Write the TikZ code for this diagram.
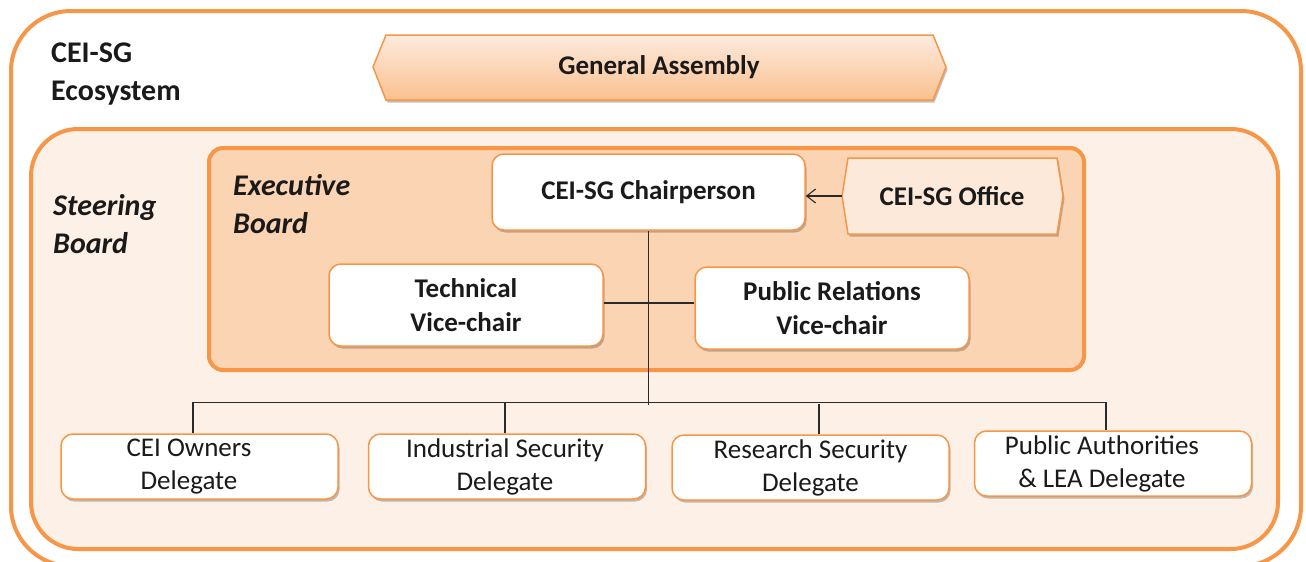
\documentclass[tikz,border=0pt]{standalone}
\usepackage{fontspec}
\setmainfont{Carlito}
\usetikzlibrary{shadows,arrows.meta}
\definecolor{acc}{HTML}{F79646}
\definecolor{steerfill}{HTML}{FDF1E7}
\definecolor{execfill}{HTML}{FBD4B4}
\definecolor{officefill}{HTML}{FDE9D9}
\definecolor{gatop}{HTML}{FDEBDE}
\definecolor{gabot}{HTML}{FAC08F}
\definecolor{ink}{HTML}{1A1A1A}
\definecolor{lineclr}{HTML}{2A2A2A}
\tikzset{
  boxshadow/.style={drop shadow={shadow xshift=1.5pt,shadow yshift=-2.5pt,opacity=0.35,fill=black!70}},
  box/.style={draw=acc,line width=1.5pt,fill=white,rounded corners=12pt,inner sep=0pt,align=center,text=ink,boxshadow},
  boldbox/.style={box,font=\bfseries\fontsize{27}{34}\selectfont},
  delbox/.style={box,font=\fontsize{27}{33}\selectfont,minimum width=277pt,minimum height=65pt},
  grouplabel/.style={inner sep=0pt,anchor=north west,align=left,text=ink,font=\bfseries\fontsize{30}{38}\selectfont},
  conn/.style={draw=lineclr,line width=1.1pt},
  plain/.style={inner sep=0pt,text=ink}
}
\begin{document}
\begin{tikzpicture}[x=1pt,y=-1pt]
\path[use as bounding box,clip] (0,0) rectangle (1306,562);
% outer ecosystem
\draw[acc,line width=4pt,fill=white,rounded corners=60pt] (11,11) rectangle (1301,566);
% steering board
\draw[acc,line width=4pt,fill=steerfill,rounded corners=47pt] (31,129) rectangle (1278,549);
% executive board
\draw[acc,line width=4pt,fill=execfill,rounded corners=14pt] (209,148) rectangle (1084,370);
% General Assembly
\path[draw=acc,line width=1.5pt,top color=gatop,bottom color=gabot,boxshadow]
  (373,67) -- (386,35) -- (933,35) -- (946,67) -- (933,100) -- (386,100) -- cycle;
\node[plain,font=\bfseries\fontsize{27}{34}\selectfont] (ga) at (659,67) {General Assembly};
% Office
\path[draw=acc,line width=1.5pt,fill=officefill,boxshadow]
  (842,196) -- (848,158) -- (1057,158) -- (1063,196) -- (1057,234) -- (848,234) -- cycle;
\node[plain,font=\bfseries\fontsize{27}{34}\selectfont] (office) at (952,196) {CEI-SG Office};
\coordinate (officew) at (842,196);
% labels
\node[grouplabel] (eco) at (51,43) {CEI-SG\\Ecosystem};
\node[grouplabel,font=\bfseries\itshape\fontsize{30}{38}\selectfont] (steer) at (53,194) {Steering\\Board};
\node[grouplabel,font=\bfseries\itshape\fontsize{30}{38}\selectfont] (exec) at (233,174) {Executive\\Board};
% executive nodes
\node[boldbox,minimum width=313pt,minimum height=76pt] (chair) at (648.5,192) {CEI-SG Chairperson};
\node[boldbox,minimum width=274pt,minimum height=82pt] (tech) at (466,305) {Technical\\Vice-chair};
\node[boldbox,minimum width=274pt,minimum height=82pt] (pr) at (832,308) {Public Relations\\Vice-chair};
% delegates
\node[delbox] (d1) at (199.5,466.5) {CEI Owners\hspace*{21pt}\\Delegate\hspace*{21pt}};
\node[delbox] (d2) at (507,466.5) {Industrial Security\hspace*{4pt}\\Delegate\hspace*{4pt}};
\node[delbox] (d3) at (810.5,467.5) {Research Security\\Delegate};
\node[delbox] (d4) at (1113,463.5) {Public Authorities\hspace*{22pt}\\\& LEA Delegate\hspace*{22pt}};
% connectors
\coordinate (bus) at (648.5,405);
\draw[conn] (chair.south) -- (bus);
\draw[conn] (tech.east |- 0,303) -- (pr.west |- 0,303);
\draw[conn,-{Straight Barb[length=9pt,width=14pt]}] (officew) -- (chair.east |- officew);
\draw[conn] ([xshift=-6.5pt]d1.north) -- ++(0,-31) -| ([xshift=-7pt]d4.north);
\draw[conn] ([xshift=-2pt]d2.north) -- ++(0,-31);
\draw[conn] ([xshift=8.5pt]d3.north) -- ++(0,-30);
\end{tikzpicture}
\end{document}
